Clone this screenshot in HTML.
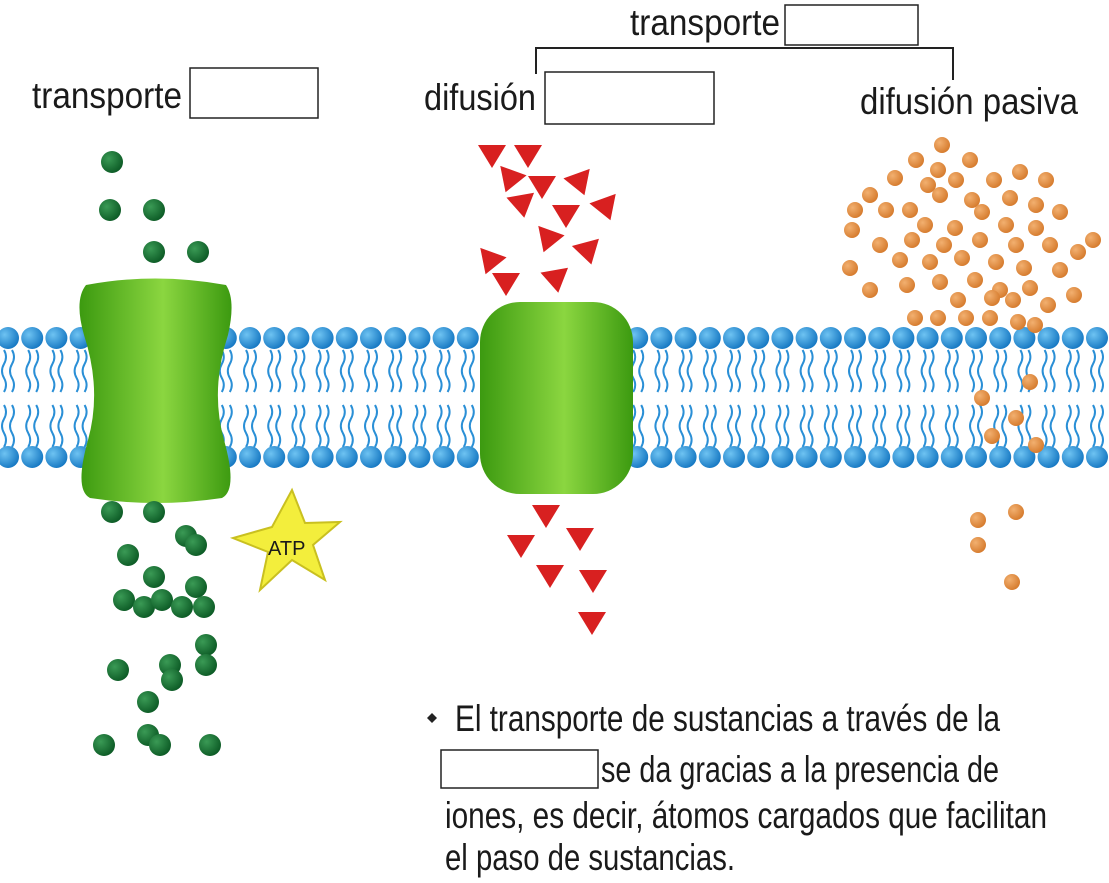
<!DOCTYPE html>
<html><head><meta charset="utf-8"><style>
html,body{margin:0;padding:0;background:#fff;}
svg{display:block;}
text{font-family:"Liberation Sans",sans-serif;fill:#1a1a1a;}
</style></head><body>
<svg id="s" width="1109" height="883" viewBox="0 0 1109 883">
<defs>
<radialGradient id="hb" cx="0.35" cy="0.35" r="0.7"><stop offset="0" stop-color="#6ec3f2"/><stop offset="1" stop-color="#1577c2"/></radialGradient>
<radialGradient id="gd" cx="0.35" cy="0.35" r="0.7"><stop offset="0" stop-color="#3a9a55"/><stop offset="1" stop-color="#0c5a25"/></radialGradient>
<radialGradient id="od" cx="0.35" cy="0.35" r="0.7"><stop offset="0" stop-color="#f2b070"/><stop offset="1" stop-color="#d57a2c"/></radialGradient>
<linearGradient id="pg" x1="0" x2="1"><stop offset="0" stop-color="#3c9a10"/><stop offset="0.55" stop-color="#8bd640"/><stop offset="1" stop-color="#3c9a10"/></linearGradient>
</defs>
<g id="mem"></g>
<path d="M86,285 Q155,272 226,285 Q236,300 228,335 Q210,390 224,440 Q238,490 222,498 Q155,508 90,498 Q74,490 88,440 Q102,390 84,335 Q74,300 86,285Z" fill="url(#pg)"/>
<rect x="480" y="302" width="153" height="192" rx="40" fill="url(#pg)"/>
<g id="dots"></g>
<polygon points="292,490 305,523 340,522 313,545 325,580 292,560 260,590 268,552 233,538 272,527" fill="#f3ee3c" stroke="#c9c020" stroke-width="2"/>
<text x="268" y="555" font-size="20">ATP</text>
<g font-size="37" lengthAdjust="spacingAndGlyphs">
<text x="32" y="108" textLength="150" lengthAdjust="spacingAndGlyphs">transporte</text>
<text x="630" y="35" textLength="150" lengthAdjust="spacingAndGlyphs">transporte</text>
<text x="424" y="110" textLength="112" lengthAdjust="spacingAndGlyphs">difusión</text>
<text x="860" y="114" textLength="218" lengthAdjust="spacingAndGlyphs">difusión pasiva</text>
<text x="455" y="731" textLength="545" lengthAdjust="spacingAndGlyphs">El transporte de sustancias a través de la</text>
<text x="601" y="782" textLength="398" lengthAdjust="spacingAndGlyphs">se da gracias a la presencia de</text>
<text x="445" y="828" textLength="602" lengthAdjust="spacingAndGlyphs">iones, es decir, átomos cargados que facilitan</text>
<text x="445" y="870" textLength="290" lengthAdjust="spacingAndGlyphs">el paso de sustancias.</text>
</g>
<rect x="190" y="68" width="128" height="50" fill="#fff" stroke="#222" stroke-width="1.5"/>
<rect x="785" y="5" width="133" height="40" fill="#fff" stroke="#222" stroke-width="1.5"/>
<path d="M536,74 V48 H953 V80" fill="none" stroke="#222" stroke-width="2"/>
<rect x="545" y="72" width="169" height="52" fill="#fff" stroke="#222" stroke-width="1.5"/>
<polygon points="432,713 437,718 432,723 427,718" fill="#222"/>
<rect x="441" y="750" width="157" height="38" fill="#fff" stroke="#222" stroke-width="1.5"/>
</svg>
<script>
const NS="http://www.w3.org/2000/svg";
const greenDots=[[112,162],[110,210],[154,210],[154,252],[198,252],[112,512],[154,512],[186,536],[196,545],[128,555],[154,577],[196,587],[124,600],[144,607],[162,600],[182,607],[204,607],[206,645],[206,665],[118,670],[170,665],[172,680],[148,702],[148,735],[104,745],[160,745],[210,745]];
const redTris=[[492,155,0],[528,155,0],[510,180,20],[542,186,0],[580,183,-20],[522,205,-10],[566,215,0],[606,208,-20],[548,240,20],[588,252,-15],[490,262,20],[506,283,0],[556,280,-10],[546,515,0],[521,545,0],[580,538,0],[550,575,0],[593,580,0],[592,622,0]];
const orangeDots=[[942,145],[916,160],[970,160],[938,170],[895,178],[928,185],[956,180],[994,180],[1020,172],[1046,180],[870,195],[940,195],[972,200],[1010,198],[1036,205],[855,210],[886,210],[910,210],[982,212],[1060,212],[925,225],[955,228],[1006,225],[1036,228],[852,230],[1093,240],[880,245],[912,240],[944,245],[980,240],[1016,245],[1050,245],[1078,252],[900,260],[930,262],[962,258],[996,262],[1024,268],[1060,270],[850,268],[870,290],[907,285],[940,282],[975,280],[1000,290],[1030,288],[1074,295],[958,300],[992,298],[1013,300],[1048,305],[915,318],[938,318],[966,318],[990,318],[1018,322],[1035,325],[1030,382],[982,398],[1016,418],[992,436],[1036,445],[978,520],[1016,512],[978,545],[1012,582]];
const mem=document.getElementById('mem');
function el(t,a,p){const e=document.createElementNS(NS,t);for(const k in a)e.setAttribute(k,a[k]);p.appendChild(e);return e;}
for(let x=8;x<1115;x+=24.2){
  for(const [y0,y1] of [[350,392],[405,447]]){
    for(const dx of [-4,4]){
      const p=el('path',{d:`M${x+dx},${y0} q4,7 0,14 q-4,7 0,14 q4,7 0,14`,fill:'none',stroke:'#2a8fd6','stroke-width':2},mem);
      
      
    }
  }
  for(const y of [338,457]){
    const c=el('circle',{cx:x,cy:y,r:11,fill:'url(#hb)'},mem);
    
    
  }
}
const dots=document.getElementById('dots');
greenDots.forEach(([x,y])=>{const c=el('circle',{cx:x,cy:y,r:11,fill:'url(#gd)'},dots);

});
orangeDots.forEach(([x,y])=>{const c=el('circle',{cx:x,cy:y,r:8,fill:'url(#od)'},dots);

});
redTris.forEach(([x,y,r])=>{const p=el('polygon',{points:`${x-14},${y-10} ${x+14},${y-10} ${x},${y+13}`,fill:'#d82020',transform:`rotate(${r} ${x} ${y})`},dots);

});
</script>
</body></html>
